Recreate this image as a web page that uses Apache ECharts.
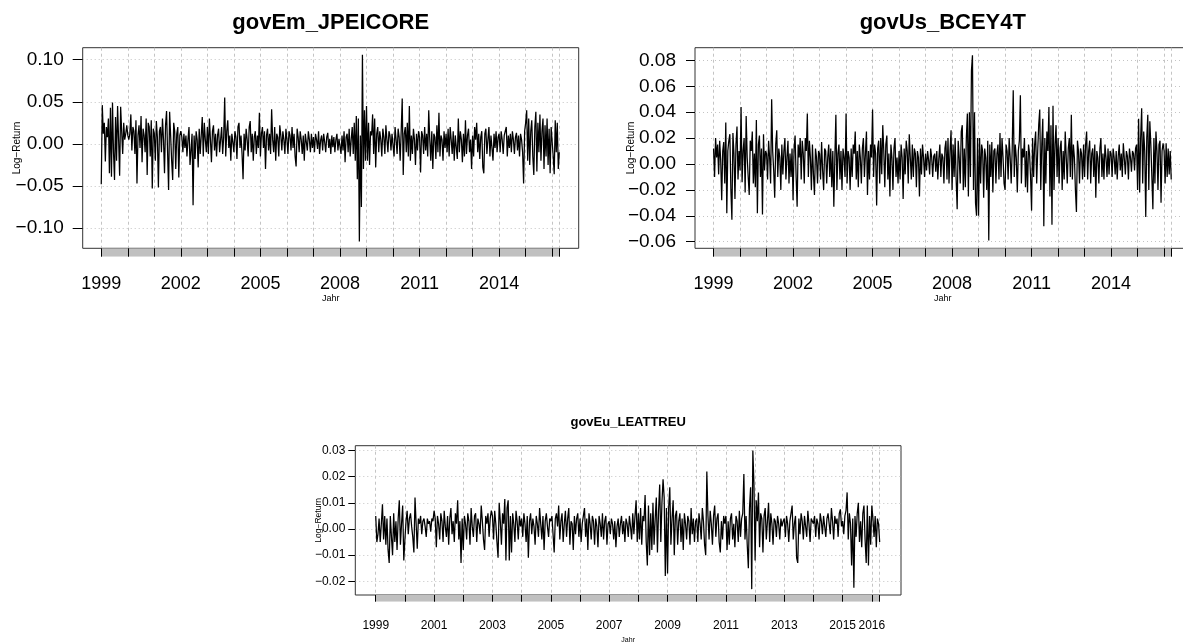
<!DOCTYPE html>
<html>
<head>
<meta charset="utf-8">
<script src="https://cdn.jsdelivr.net/npm/echarts@6/dist/echarts.min.js"></script>
<style>
  html, body { margin: 0; padding: 0; background: #fff; }
  #main { width: 1183px; height: 644px; }
</style>
</head>
<body>
<div id="main"></div>
<script>
// weekly log-returns, one row per year (26 points / year)
var jpeicore = [
  -0.048, 0.046, 0.012, 0.025, -0.021, 0.020, 0.008, 0.030, -0.035, 0.043, -0.039, 0.049, -0.010, -0.043, 0.032, -0.020, 0.045, 0.005, -0.038, 0.044, 0.015, -0.012, 0.025, 0.005, 0.012, 0.022,
  0.010, 0.005, 0.012, 0.035, -0.008, 0.020, 0.015, -0.012, 0.028, -0.047, 0.010, 0.022, -0.005, 0.033, -0.022, 0.018, 0.010, -0.010, 0.030, -0.037, 0.025, 0.020, -0.015, 0.028, -0.053, 0.018,
  0.012, -0.020, 0.027, 0.008, -0.052, 0.015, 0.020, -0.010, 0.030, 0.005, -0.035, 0.022, 0.039, -0.010, -0.055, 0.038, 0.010, -0.020, -0.043, 0.025, 0.015, -0.030, 0.012, 0.020, -0.040, 0.010,
  0.015, 0.008, -0.010, 0.012, -0.005, 0.010, -0.015, 0.005, 0.020, -0.025, -0.008, 0.012, -0.073, 0.010, -0.018, 0.015, 0.005, -0.028, 0.018, -0.012, 0.010, 0.032, -0.015, 0.025, 0.005, -0.010,
  0.020, -0.012, 0.030, 0.005, -0.022, 0.015, 0.022, -0.008, 0.012, -0.015, 0.010, 0.018, -0.010, 0.005, 0.020, -0.012, 0.008, 0.055, -0.015, 0.015, 0.028, -0.005, 0.010, -0.020, 0.012, 0.002,
  -0.010, 0.015, 0.008, -0.018, 0.020, 0.025, -0.005, 0.010, -0.012, -0.042, 0.012, -0.008, 0.018, 0.005, -0.015, 0.020, 0.027, -0.010, 0.012, -0.020, 0.008, 0.015, -0.012, 0.010, -0.005, 0.037,
  -0.015, 0.012, 0.020, -0.005, 0.015, -0.030, 0.010, 0.018, -0.008, 0.012, -0.012, 0.041, 0.005, -0.010, 0.020, -0.020, 0.012, 0.008, -0.015, 0.022, 0.010, -0.008, 0.015, 0.005, -0.012, 0.018,
  0.005, -0.012, 0.015, 0.010, -0.008, 0.020, -0.005, 0.012, -0.015, -0.027, 0.018, 0.008, -0.010, 0.015, 0.005, -0.012, 0.010, -0.020, 0.012, 0.002, -0.008, 0.015, 0.005, -0.010, 0.012, -0.005,
  0.008, -0.010, 0.012, 0.005, -0.006, 0.015, -0.012, 0.004, 0.010, -0.008, 0.012, 0.002, -0.010, 0.008, 0.013, -0.005, 0.006, -0.012, 0.010, -0.004, 0.008, -0.010, 0.005, 0.012, -0.008, 0.006,
  0.005, -0.012, 0.010, -0.008, 0.015, -0.022, 0.008, 0.012, -0.010, 0.018, -0.015, 0.005, 0.020, -0.012, 0.025, -0.020, 0.033, -0.042, 0.030, -0.116, 0.010, -0.075, 0.106, -0.030, 0.040, -0.020,
  0.045, -0.020, 0.025, -0.025, 0.015, 0.010, 0.035, -0.012, 0.030, -0.028, 0.012, 0.020, -0.010, 0.015, 0.005, -0.015, 0.018, 0.008, -0.012, 0.022, 0.005, -0.010, 0.015, 0.010, -0.008, 0.012,
  0.010, -0.015, 0.020, 0.005, -0.012, 0.018, 0.008, -0.020, 0.015, 0.054, -0.037, 0.012, 0.020, -0.010, 0.025, -0.015, 0.045, -0.020, 0.010, -0.012, 0.018, 0.005, -0.025, 0.012, -0.008, 0.015,
  0.008, -0.034, 0.015, 0.010, -0.012, 0.020, -0.008, 0.012, -0.015, 0.040, 0.005, -0.020, 0.015, -0.030, 0.012, 0.008, -0.018, 0.022, -0.010, 0.037, -0.015, 0.010, 0.005, -0.020, 0.015, -0.005,
  0.012, -0.010, 0.018, -0.015, 0.020, 0.005, -0.012, 0.015, -0.020, 0.010, 0.008, -0.018, 0.030, -0.010, 0.015, 0.005, -0.022, 0.012, -0.015, 0.028, -0.012, 0.010, 0.018, -0.010, 0.005, -0.030,
  0.010, -0.015, 0.020, 0.005, 0.025, -0.010, 0.012, -0.018, 0.008, 0.015, -0.028, -0.035, 0.012, 0.018, -0.012, 0.005, 0.020, -0.015, 0.010, 0.008, -0.020, 0.012, -0.005, 0.015, -0.010, 0.008,
  0.012, -0.010, 0.015, 0.005, -0.012, 0.010, 0.008, 0.020, -0.015, 0.010, -0.005, 0.012, -0.010, 0.015, 0.005, -0.012, 0.008, 0.013, -0.008, 0.010, -0.015, 0.012, 0.005, -0.010, -0.047, 0.015,
  0.025, 0.040, -0.020, 0.030, -0.025, 0.015, 0.028, -0.015, -0.037, 0.020, 0.038, -0.033, 0.025, -0.010, 0.035, -0.020, 0.015, 0.030, -0.030, 0.022, -0.015, 0.030, -0.025, 0.018, -0.035, 0.020,
  0.020, -0.015, -0.036, 0.028, -0.010, 0.025, -0.030, -0.010
];
var bcey4t = [
  0.012, -0.010, 0.020, 0.005, 0.015, -0.008, 0.018, 0.003, -0.028, 0.010, 0.017, -0.015, 0.032, -0.038, 0.010, 0.018, 0.023, -0.020, -0.043, 0.024, 0.008, -0.027, 0.015, 0.029, -0.012, 0.010,
  -0.005, 0.044, -0.014, 0.010, 0.020, -0.022, 0.037, 0.005, -0.010, -0.024, 0.018, 0.010, 0.025, -0.015, 0.008, -0.018, 0.034, -0.038, 0.015, 0.022, -0.010, 0.012, -0.039, 0.023, -0.005, 0.010,
  0.008, -0.012, 0.018, 0.005, -0.015, 0.050, 0.010, -0.005, -0.026, 0.015, 0.026, -0.010, 0.012, 0.005, -0.020, 0.015, -0.008, 0.010, 0.020, -0.012, 0.005, 0.018, -0.015, 0.008, -0.010, 0.012,
  -0.028, 0.012, 0.022, -0.010, -0.033, 0.015, 0.005, 0.020, -0.012, 0.018, 0.008, -0.015, 0.020, 0.010, 0.039, -0.010, 0.018, 0.005, -0.020, 0.015, -0.008, -0.024, 0.012, 0.005, -0.015, 0.010,
  0.008, -0.012, 0.017, -0.005, -0.020, 0.012, 0.010, -0.015, 0.005, 0.015, -0.010, 0.012, -0.018, 0.010, -0.033, 0.005, 0.038, -0.020, 0.008, 0.015, -0.012, 0.010, -0.020, 0.012, 0.005, -0.010,
  0.039, -0.015, 0.010, 0.005, -0.020, 0.012, -0.010, 0.015, 0.008, 0.025, -0.012, 0.010, -0.018, 0.015, 0.005, -0.015, 0.012, 0.020, -0.010, 0.008, 0.025, -0.024, 0.010, -0.012, 0.015, 0.005,
  0.042, -0.010, 0.015, 0.008, -0.032, 0.012, 0.018, -0.015, 0.020, -0.008, 0.030, 0.010, -0.018, 0.015, 0.022, -0.012, 0.008, -0.025, 0.015, 0.005, -0.020, 0.012, 0.020, -0.010, 0.005, -0.015,
  0.010, -0.012, 0.015, 0.005, -0.027, 0.012, -0.008, 0.018, 0.010, -0.015, 0.023, 0.005, -0.012, 0.015, -0.010, 0.012, 0.008, -0.018, 0.010, 0.005, -0.025, 0.012, -0.008, 0.015, 0.005, -0.010,
  0.008, -0.005, 0.010, 0.003, -0.008, 0.012, 0.005, -0.010, 0.006, 0.008, -0.006, 0.010, -0.012, 0.004, 0.015, -0.010, 0.008, 0.005, -0.015, 0.012, 0.018, -0.012, 0.020, -0.015, 0.010, 0.026,
  -0.020, 0.015, -0.010, 0.020, -0.012, -0.035, 0.018, 0.005, -0.015, 0.025, 0.030, -0.020, 0.012, -0.018, 0.020, 0.039, -0.025, 0.040, -0.010, 0.072, 0.084, -0.020, 0.040, -0.030, -0.040, 0.020,
  -0.040, 0.020, -0.015, 0.015, 0.010, -0.026, 0.012, 0.005, -0.020, 0.018, -0.059, 0.015, -0.010, 0.017, -0.022, 0.010, 0.012, -0.015, 0.008, 0.015, -0.012, 0.024, -0.010, 0.020, 0.005, -0.015,
  -0.020, 0.015, 0.010, -0.012, 0.020, 0.005, -0.015, 0.012, 0.057, -0.010, 0.015, 0.005, -0.022, 0.010, 0.018, 0.053, -0.015, 0.012, 0.005, 0.020, -0.018, 0.010, -0.022, 0.015, 0.008, -0.010,
  -0.036, 0.020, -0.010, 0.015, 0.025, -0.015, 0.010, 0.030, 0.042, -0.020, 0.015, 0.035, -0.048, 0.020, -0.015, 0.025, 0.010, 0.044, -0.025, 0.030, -0.047, 0.045, -0.020, 0.015, 0.030, -0.010,
  0.020, -0.015, 0.012, 0.018, -0.020, 0.010, -0.012, 0.025, 0.005, -0.015, 0.012, 0.020, -0.010, 0.038, -0.012, 0.015, 0.005, -0.020, -0.037, 0.018, 0.010, -0.015, 0.012, 0.008, -0.012, 0.015,
  -0.010, 0.015, 0.025, -0.012, 0.010, 0.018, -0.015, 0.008, 0.012, -0.010, 0.015, -0.026, 0.010, 0.005, -0.015, 0.012, 0.020, -0.010, 0.008, -0.012, 0.015, 0.005, -0.010, 0.012, -0.008, 0.010,
  0.008, -0.010, 0.012, 0.005, -0.008, 0.010, -0.012, 0.006, 0.015, -0.005, 0.008, -0.010, 0.016, 0.004, -0.008, 0.010, 0.006, -0.012, 0.012, 0.005, -0.006, 0.010, 0.008, -0.005, 0.012, 0.015,
  -0.020, 0.035, -0.022, 0.020, 0.043, -0.015, 0.025, 0.010, -0.041, 0.020, 0.038, -0.020, 0.033, 0.015, -0.010, -0.035, 0.020, -0.015, 0.025, 0.010, -0.020, 0.015, 0.018, -0.030, 0.010, 0.016,
  0.010, -0.015, 0.016, -0.010, 0.012, -0.008, 0.010, -0.012
];
var leattreu = [
  0.005, -0.005, -0.002, 0.004, -0.005, 0.002, 0.0095, -0.004, 0.005, -0.006, 0.004, -0.008, -0.013, 0.005, -0.003, -0.010, 0.006, -0.005, 0.003, -0.008, 0.004, 0.011, -0.006, 0.002, 0.009, -0.012,
  -0.004, 0.003, 0.007, -0.002, 0.004, 0.006, 0.001, -0.003, -0.009, 0.012, 0.002, -0.0075, 0.004, 0.002, 0.005, -0.002, 0.003, 0.004, 0.001, -0.003, 0.004, 0.002, 0.003, -0.001, 0.004, 0.003,
  0.007, 0.004, -0.007, 0.005, 0.002, -0.004, 0.006, 0.003, -0.005, 0.007, 0.001, -0.003, 0.005, -0.006, 0.004, 0.008, -0.002, 0.003, -0.005, 0.006, 0.002, 0.011, -0.004, 0.003, -0.013, 0.004,
  -0.008, 0.005, 0.002, -0.004, 0.006, 0.003, -0.006, 0.008, 0.001, -0.003, 0.005, 0.006, -0.005, 0.004, 0.002, -0.002, 0.009, 0.003, -0.004, -0.008, 0.005, 0.002, 0.006, -0.003, 0.004, 0.007,
  0.005, -0.004, 0.007, 0.002, -0.005, -0.011, 0.010, 0.003, -0.006, 0.006, 0.002, 0.0115, -0.012, 0.008, 0.011, -0.012, 0.005, -0.009, 0.006, 0.002, -0.005, 0.007, 0.003, -0.004, 0.005, 0.001,
  0.004, -0.003, 0.006, 0.002, -0.005, 0.005, -0.011, 0.003, 0.006, -0.002, 0.004, 0.001, -0.006, 0.005, 0.002, -0.003, 0.008, 0.002, -0.004, 0.005, -0.008, 0.003, 0.006, 0.001, -0.003, 0.004,
  0.003, 0.005, -0.002, -0.009, 0.004, 0.006, 0.001, 0.009, -0.004, 0.003, 0.006, -0.005, 0.002, 0.007, -0.003, 0.004, 0.008, -0.006, 0.003, 0.002, -0.008, 0.005, -0.002, 0.004, 0.006, -0.003,
  0.004, -0.005, 0.002, 0.005, 0.008, -0.003, 0.004, -0.008, 0.006, 0.002, -0.004, 0.005, 0.003, -0.006, 0.004, 0.001, -0.007, 0.005, 0.002, -0.003, 0.006, -0.004, 0.003, 0.005, -0.006, 0.002,
  0.003, -0.002, 0.004, 0.002, -0.004, 0.003, -0.007, 0.001, 0.004, -0.003, 0.002, 0.005, -0.002, 0.003, -0.005, 0.004, 0.002, -0.003, 0.005, 0.001, -0.004, 0.006, -0.002, 0.005, 0.011, -0.005,
  0.006, -0.004, 0.008, -0.006, 0.005, 0.003, 0.013, -0.005, -0.014, 0.009, -0.010, 0.006, -0.008, 0.010, -0.006, 0.004, 0.012, -0.009, 0.007, 0.017, -0.005, 0.010, 0.019, 0.012, -0.018, 0.008,
  -0.017, 0.008, 0.016, -0.006, 0.004, 0.011, -0.010, 0.005, 0.007, -0.006, 0.003, 0.006, -0.005, 0.004, -0.008, 0.006, 0.002, -0.004, 0.005, 0.003, -0.006, 0.008, -0.002, 0.004, -0.005, 0.003,
  0.004, -0.005, 0.006, 0.002, -0.004, 0.008, 0.003, -0.006, -0.010, 0.022, 0.005, -0.004, 0.007, 0.002, -0.006, 0.005, 0.009, -0.003, 0.004, 0.006, -0.005, -0.009, 0.003, -0.004, 0.005, 0.002,
  0.005, -0.008, 0.003, -0.006, 0.004, 0.006, -0.004, 0.002, -0.007, 0.005, 0.003, -0.005, 0.007, -0.003, 0.004, 0.006, 0.021, -0.004, 0.005, -0.006, -0.015, 0.008, 0.016, -0.023, 0.030, 0.017,
  -0.012, 0.011, 0.003, 0.014, -0.007, 0.006, 0.004, -0.009, 0.005, 0.008, -0.004, 0.003, 0.010, -0.005, 0.006, 0.002, -0.006, 0.004, 0.003, -0.003, 0.005, 0.002, -0.004, 0.004, 0.001, 0.003,
  0.004, -0.003, 0.005, 0.002, -0.005, 0.003, 0.006, 0.009, -0.004, 0.002, 0.005, -0.011, -0.013, 0.004, -0.002, 0.006, 0.003, -0.004, 0.005, 0.001, -0.003, 0.007, 0.002, -0.005, 0.004, 0.003,
  0.002, 0.005, -0.003, 0.004, 0.002, -0.004, 0.006, 0.003, -0.002, 0.005, 0.001, -0.003, 0.004, 0.006, 0.002, -0.002, 0.008, 0.003, -0.004, 0.005, 0.002, 0.004, -0.003, 0.006, 0.0075, 0.001,
  0.003, -0.002, 0.005, 0.007, 0.014, -0.004, 0.006, 0.002, -0.014, 0.004, -0.0225, 0.005, -0.003, 0.006, 0.010, -0.005, 0.003, -0.007, 0.006, 0.009, -0.004, -0.013, 0.009, -0.014, 0.005, -0.006,
  0.009, 0.004, -0.003, 0.005, -0.007, 0.004, 0.002, -0.005
];

var startYear = 1999;
var perYear = 26;
var yearTicks = [1999, 2000, 2001, 2002, 2003, 2004, 2005, 2006, 2007, 2008, 2009, 2010, 2011, 2012, 2013, 2014, 2015, 2016];
var topYearLabels = [1999, 2002, 2005, 2008, 2011, 2014];
var euYearLabels = [1999, 2001, 2003, 2005, 2007, 2009, 2011, 2013, 2015, 2016];
var emTicks = [-0.1, -0.05, 0, 0.05, 0.1];
var usTicks = [-0.06, -0.04, -0.02, 0, 0.02, 0.04, 0.06, 0.08];
var euTicks = [-0.02, -0.01, 0, 0.01, 0.02, 0.03];

var FONT = 'Liberation Sans, Arial, sans-serif';

function toPairs(vals) {
  return vals.map(function (v, i) { return [startYear + i / perYear, v]; });
}
function fmt(v) {
  return (v < 0 ? '\u2212' : '') + Math.abs(v).toFixed(2);
}

var panels = [
  { title: 'govEm_JPEICORE', vals: jpeicore, yTicks: emTicks, yMin: -0.1242, yMax: 0.1143, xLabels: topYearLabels,
    left: 82.7, top: 47.7, width: 496, height: 200.6, bar: 8.4,
    yFs: 19, xFs: 18, tFs: 22, nFs: 10, jFs: 9, yTick: 10, yMargin: 19, xMargin: 18, nameGap: 60, jahrGap: 37, titleY: 23 },
  { title: 'govUs_BCEY4T', vals: bcey4t, yTicks: usTicks, yMin: -0.0651, yMax: 0.0898, xLabels: topYearLabels,
    left: 695, top: 47.7, width: 495.6, height: 200.6, bar: 8.4,
    yFs: 19, xFs: 18, tFs: 22, nFs: 10, jFs: 9, yTick: 9, yMargin: 19, xMargin: 18, nameGap: 59, jahrGap: 37, titleY: 23 },
  { title: 'govEu_LEATTREU', vals: leattreu, yTicks: euTicks, yMin: -0.02525, yMax: 0.03187, xLabels: euYearLabels,
    left: 355.3, top: 445.7, width: 545.7, height: 149.3, bar: 6.7,
    yFs: 12, xFs: 12, tFs: 13, nFs: 8.5, jFs: 7, yTick: 7, yMargin: 10, xMargin: 18, nameGap: 32, jahrGap: 35, titleY: 422.7 }
];

var grids = [], xAxes = [], yAxes = [], series = [], texts = [];

panels.forEach(function (p, k) {
  var endX = startYear + (p.vals.length - 1) / perYear;
  var ticks = yearTicks.concat([endX]);
  var g = k * 2;

  grids.push({ left: p.left, top: p.top, width: p.width, height: p.height,
    show: true, borderColor: '#333', borderWidth: 1, backgroundColor: '#fff',
    containLabel: false, outerBoundsMode: 'none' });
  grids.push({ left: p.left, top: p.top + p.height, width: p.width, height: p.bar,
    containLabel: false, outerBoundsMode: 'none' });

  xAxes.push({ gridIndex: g, type: 'value', min: 1998.3, max: 2017.0,
    axisLine: { show: false }, axisLabel: { show: false },
    axisTick: { show: false, customValues: ticks },
    splitLine: { show: true, lineStyle: { color: '#c4c4c4', width: 1, type: [3, 3] } } });
  xAxes.push({ gridIndex: g + 1, type: 'value', min: 1998.3, max: 2017.0, position: 'bottom', z: 3,
    axisLine: { show: false },
    axisTick: { show: true, inside: true, length: p.bar, customValues: ticks, lineStyle: { color: '#000', width: 1 } },
    axisLabel: { customValues: p.xLabels, margin: p.xMargin, fontSize: p.xFs, color: '#000', fontFamily: FONT,
      formatter: function (v) { return String(Math.round(v)); } },
    splitLine: { show: false },
    name: 'Jahr', nameLocation: 'middle', nameGap: p.jahrGap, nameMoveOverlap: false,
    nameTextStyle: { fontSize: p.jFs, color: '#000', fontFamily: FONT } });

  yAxes.push({ gridIndex: g, type: 'value', min: p.yMin, max: p.yMax,
    axisLine: { show: false },
    axisTick: { show: true, length: p.yTick, customValues: p.yTicks, lineStyle: { color: '#000', width: 1 } },
    axisLabel: { customValues: p.yTicks, formatter: fmt, margin: p.yMargin, fontSize: p.yFs, color: '#000', fontFamily: FONT },
    splitLine: { show: true, lineStyle: { color: '#c4c4c4', width: 1, type: [1, 3] } },
    name: 'Log\u2212Return', nameLocation: 'middle', nameRotate: 90, nameGap: p.nameGap, nameMoveOverlap: false,
    nameTextStyle: { fontSize: p.nFs, color: '#000', fontFamily: FONT } });
  yAxes.push({ gridIndex: g + 1, type: 'value', min: 0, max: 1, show: false });

  series.push({ type: 'line', xAxisIndex: g, yAxisIndex: g, data: toPairs(p.vals),
    symbol: 'none', silent: true, lineStyle: { color: '#000', width: 1.25 } });
  series.push({ type: 'line', xAxisIndex: g + 1, yAxisIndex: g + 1, data: [[startYear, 1], [endX, 1]],
    symbol: 'none', silent: true, z: 1, lineStyle: { width: 0 },
    areaStyle: { color: '#c0c0c0', opacity: 1, origin: 'start' } });

  texts.push({ type: 'text', x: p.left + p.width / 2, y: p.titleY, silent: true,
    style: { text: p.title, fill: '#000', font: 'bold ' + p.tFs + 'px ' + FONT, align: 'center', verticalAlign: 'middle' } });
});

var chart = echarts.init(document.getElementById('main'), null, { renderer: 'canvas' });
chart.setOption({
  animation: false,
  backgroundColor: '#fff',
  grid: grids,
  xAxis: xAxes,
  yAxis: yAxes,
  series: series,
  graphic: texts
});
</script>
</body>
</html>
